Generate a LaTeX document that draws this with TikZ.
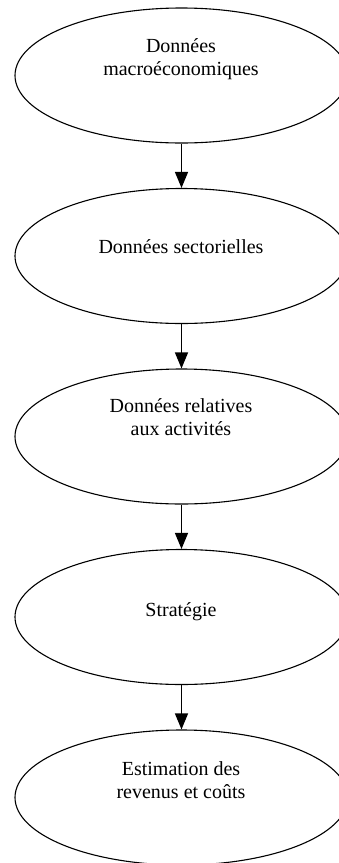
\documentclass[tikz,border=0pt]{standalone}
\usepackage{fontspec}
\setmainfont{Liberation Serif}
\usetikzlibrary{shapes.geometric,arrows.meta}
\tikzset{
  ebox/.style={draw=black, line width=1.1pt, ellipse, minimum width=333pt, minimum height=135pt, inner sep=0pt},
  lbl/.style={anchor=base, align=center, inner sep=0pt, font=\fontsize{20}{22.5}\selectfont},
  arr/.style={line width=1.3pt, -{Triangle[length=16pt,width=13pt]}}
}
\begin{document}
\begin{tikzpicture}[x=1pt,y=-1pt]
\useasboundingbox (0,0) rectangle (339,863);
\node[ebox] (e1) at (181.5,75.5) {};
\node[ebox] (e2) at (181.5,256) {};
\node[ebox] (e3) at (181.5,436.5) {};
\node[ebox] (e4) at (181.5,617) {};
\node[ebox] (e5) at (181.5,797.5) {};
\node[lbl] (t1) at (181,75) {Données\\macroéconomiques};
\node[lbl] (t2) at (181,253) {Données sectorielles};
\node[lbl] (t3) at (181,435) {Données relatives\\aux activités};
\node[lbl] (t4) at (181,616) {Stratégie};
\node[lbl] (t5) at (181,798) {Estimation des\\revenus et coûts};
\draw[arr] (e1.south) -- (e2.north);
\draw[arr] (e2.south) -- (e3.north);
\draw[arr] (e3.south) -- (e4.north);
\draw[arr] (e4.south) -- (e5.north);
\end{tikzpicture}
\end{document}
